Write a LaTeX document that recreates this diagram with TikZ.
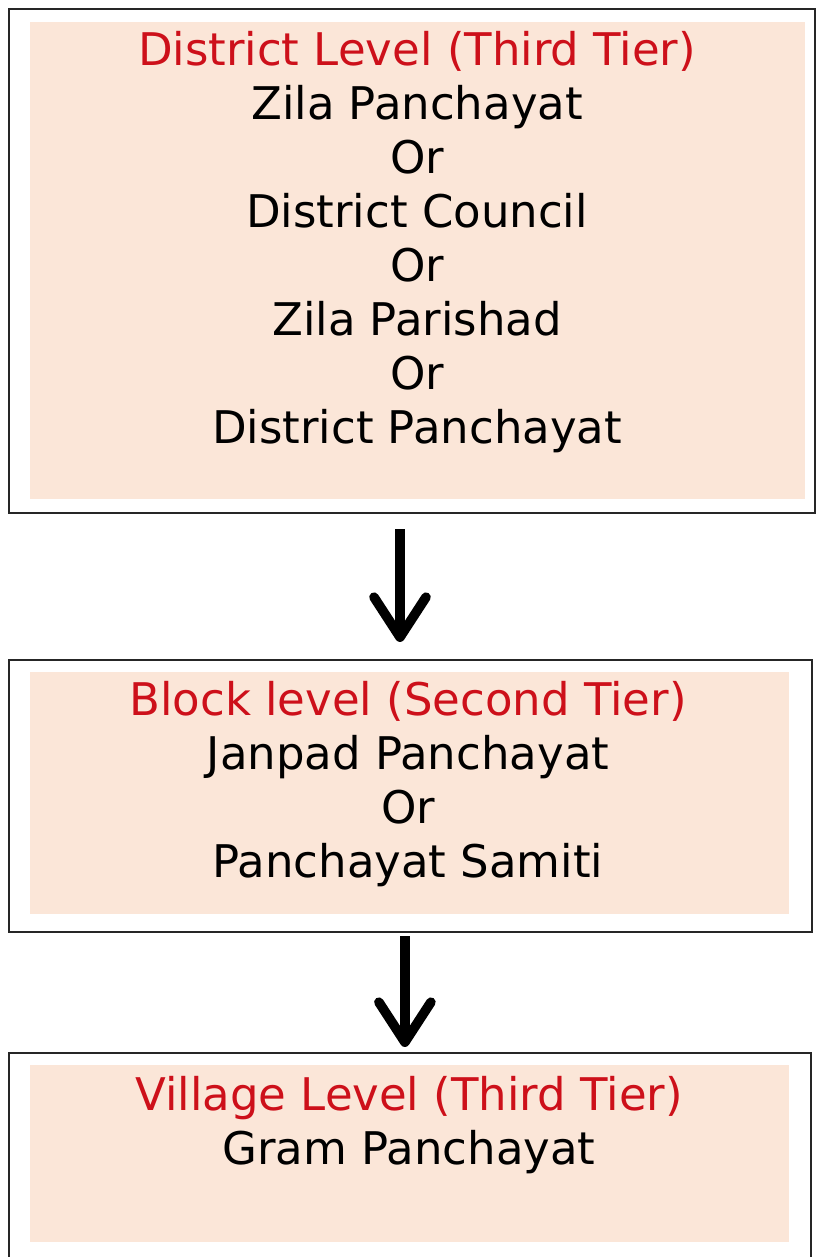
\documentclass[tikz,border=0pt]{standalone}
\usepackage{fontspec}
\newfontfamily\tierfont{DejaVu Sans}
\usetikzlibrary{arrows.meta,positioning}
\definecolor{tierfill}{RGB}{251,230,216}
\definecolor{tierred}{RGB}{205,16,26}
\tikzset
{
    outerbox/.style = {rectangle, draw=black!85, line width=0.05cm, inner sep=0pt},
    fillbox/.style  = {rectangle, fill=tierfill, draw=none, inner sep=0pt},
    tiertext/.style = {align=center, anchor=north, inner sep=0pt, font=\tierfont\fontsize{32}{38.4}\selectfont},
    flow/.style     = {line width=0.24cm, -{Straight Barb[length=1cm, width=1.3cm, round]}}
}
\begin{document}
\begin{tikzpicture}[x=0.025cm, y=-0.025cm]
   \useasboundingbox (0, 0) rectangle (817, 1257);

   % district level
   \node (b1) [outerbox, minimum width=20.15cm, minimum height=12.6cm]    at (412, 261)     {};
   \node (f1) [fillbox, minimum width=19.375cm, minimum height=11.925cm]  at (417.5, 260.5) {};
   \node (t1) [tiertext]                                                  at (417, 31)
      {\textcolor{tierred}{District Level (Third Tier)} \\ Zila Panchayat \\ Or \\ District Council \\ Or \\ Zila Parishad \\ Or \\ District Panchayat};

   % block level
   \node (b2) [outerbox, minimum width=20.075cm, minimum height=6.8cm]    at (410.5, 796)   {};
   \node (f2) [fillbox, minimum width=18.975cm, minimum height=6.05cm]    at (409.5, 793)   {};
   \node (t2) [tiertext]                                                  at (408, 681)
      {\textcolor{tierred}{Block level (Second Tier)} \\ Janpad Panchayat \\ Or \\ Panchayat Samiti};

   % village level
   \node (b3) [outerbox, minimum width=20.05cm, minimum height=5.225cm]   at (410, 1157.5)  {};
   \node (f3) [fillbox, minimum width=18.975cm, minimum height=4.425cm]   at (409.5, 1153.5) {};
   \node (t3) [tiertext]                                                  at (409, 1076)
      {\textcolor{tierred}{Village Level (Third Tier)} \\ Gram Panchayat};

   \draw[flow, shorten <=0.375cm, shorten >=0.425cm] ([xshift=-0.3cm]b1.south) -- ([xshift=-0.3cm]b1.south |- b2.north);
   \draw[flow, shorten <=0.075cm, shorten >=0.125cm] ([xshift=-0.14cm]b2.south) -- ([xshift=-0.14cm]b2.south |- b3.north);
\end{tikzpicture}
\end{document}
